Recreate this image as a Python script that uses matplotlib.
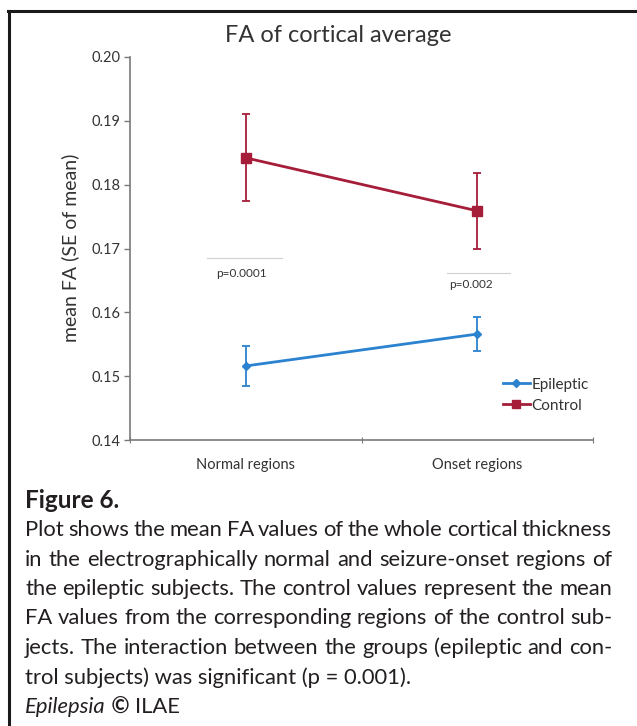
import matplotlib
matplotlib.use("Agg")
import matplotlib.pyplot as plt
from matplotlib.lines import Line2D
import numpy as np

plt.rcParams['font.family'] = ['Lato', 'DejaVu Sans']

#==============================================================================
# Data
#==============================================================================
regions = ['Normal regions', 'Onset regions']
epileptic_mean = [0.1516, 0.1566]
epileptic_se = [0.0032, 0.0027]
control_mean = [0.1842, 0.1759]
control_se = [0.0068, 0.0060]
yticks = [0.14, 0.15, 0.16, 0.17, 0.18, 0.19, 0.20]
pvals = ['p=0.0001', 'p=0.002']

caption_head = 'Figure 6.'
caption_lines = [
    'Plot shows the mean FA values of the whole cortical thickness',
    'in the electrographically normal and seizure-onset regions of',
    'the epileptic subjects. The control values represent the mean',
    'FA values from the corresponding regions of the control sub-',
    'jects. The interaction between the groups (epileptic and con-',
    'trol subjects) was significant (p = 0.001).',
]

#==============================================================================
# Chart variables
#==============================================================================
W, H = 637, 726
blue = '#2b82cf'
red = '#a51d38'
axis_col = '#7a7a7a'
txt_col = '#333333'
cap_col = '#231f20'

fig = plt.figure(figsize=(W / 100., H / 100.), dpi=100)
ax = fig.add_axes([130. / W, 1 - 440. / H, 463. / W, 383. / H])

x = np.arange(len(regions)) + 0.5
ax.errorbar(x, epileptic_mean, yerr=epileptic_se, color=blue, lw=2, marker='D',
            markersize=4.5, elinewidth=1.3, capsize=3, capthick=1.3)
ax.errorbar(x, control_mean, yerr=control_se, color=red, lw=2, marker='s',
            markersize=7, elinewidth=1.3, capsize=3, capthick=1.3)

# p-value annotations
ax.plot([0.333, 0.657], [0.1685, 0.1685], color='#d0d0d0', lw=0.8)
ax.text(0.37, 0.1661, pvals[0], fontsize=8.5, color=txt_col, va='center', ha='left')
ax.plot([1.369, 1.641], [0.1662, 0.1662], color='#d0d0d0', lw=0.8)
ax.text(1.38, 0.1643, pvals[1], fontsize=8.5, color=txt_col, va='center', ha='left')

ax.set_xlim(0, 2)
ax.set_ylim(0.14, 0.20)
ax.set_yticks(yticks)
ax.set_yticklabels(['%.2f' % v for v in yticks])
ax.set_xticks([0, 1, 2])
ax.set_xticklabels(['', '', ''])
ax.set_xticks(x, minor=True)
ax.set_xticklabels(regions, minor=True)
ax.tick_params(axis='x', which='minor', length=0, pad=13, labelsize=10.5, labelcolor=txt_col)
ax.tick_params(axis='x', which='major', length=4, direction='inout', color=axis_col)
ax.tick_params(axis='y', length=4, width=1, color=axis_col, labelsize=10.5, labelcolor=txt_col, pad=3)
for s in ['top', 'right']:
    ax.spines[s].set_visible(False)
for s in ['left', 'bottom']:
    ax.spines[s].set_color(axis_col)
    ax.spines[s].set_linewidth(1.2)

handles = [Line2D([], [], color=blue, lw=2, marker='D', markersize=4),
           Line2D([], [], color=red, lw=2, marker='s', markersize=6)]
ax.legend(handles, ['Epileptic', 'Control'], loc='center left', bbox_to_anchor=(0.775, 0.117),
          frameon=False, fontsize=11, handlelength=1.8, handletextpad=0.1, labelspacing=0.45,
          labelcolor=txt_col)

fig.text(338. / W, 1 - 35. / H, 'FA of cortical average', fontsize=17, color=txt_col,
         ha='center', va='center')
fig.text(70. / W, 1 - 248. / H, 'mean FA (SE of mean)', fontsize=14, color=txt_col,
         ha='center', va='center', rotation=90)

# frame lines (top and left)
fig.add_artist(Line2D([8. / W, 1], [1 - 11. / H, 1 - 11. / H], color='#1a1a1a', lw=2.2))
fig.add_artist(Line2D([8.5 / W, 8.5 / W], [0, 1 - 11. / H], color='#1a1a1a', lw=2.2))

#==============================================================================
# Caption (justified)
#==============================================================================
renderer = fig.canvas.get_renderer()
left, right = 25., 612.
capsize = 15.8
fig.text(left / W, 1 - 501. / H, caption_head, fontsize=17.5, fontweight='bold',
         color=cap_col, ha='left', va='center')
y0, dy = 530., 29.5
for i, line in enumerate(caption_lines):
    yy = 1 - (y0 + i * dy) / H
    words = line.split(' ')
    if i == len(caption_lines) - 1:
        fig.text(left / W, yy, line, fontsize=capsize, color=cap_col, ha='left', va='center')
        continue
    ts = [fig.text(0, yy, w, fontsize=capsize, color=cap_col, ha='left', va='center') for w in words]
    widths = [t.get_window_extent(renderer=renderer).width for t in ts]
    gap = (right - left - sum(widths)) / (len(words) - 1)
    pos = left
    for t, w in zip(ts, widths):
        t.set_x(pos / W)
        pos += w + gap

yy = 1 - (y0 + len(caption_lines) * dy) / H
pos = left
for s, kw in [('Epilepsia', dict(style='italic')), (' \u00a9 ', dict(fontweight='bold')), ('ILAE', {})]:
    t = fig.text(pos / W, yy, s, fontsize=capsize, color=cap_col, ha='left', va='center', **kw)
    pos += t.get_window_extent(renderer=renderer).width

fig.savefig('out.png', dpi=100)
